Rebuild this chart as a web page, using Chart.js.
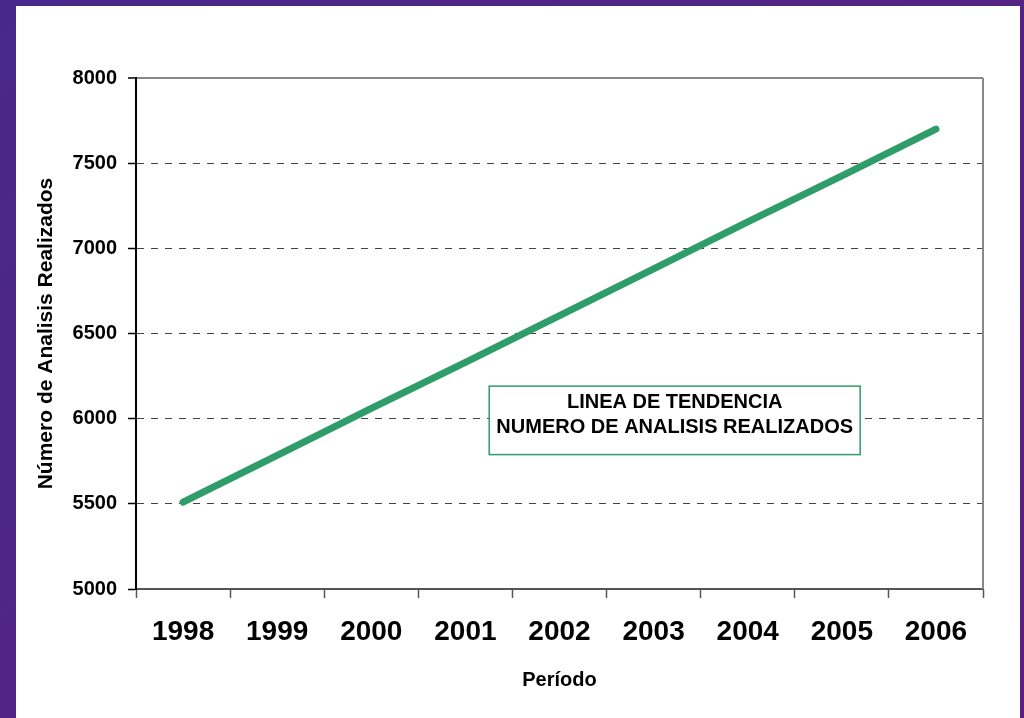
<!DOCTYPE html>
<html>
<head>
<meta charset="utf-8">
<script src="https://cdn.jsdelivr.net/npm/chart.js@4"></script>
<style>
  body { margin: 0; width: 1024px; height: 718px; overflow: hidden;
         background: linear-gradient(135deg, #48298b, #5d1f7d); }
  #panel { position: absolute; left: 16px; top: 6px; width: 1004px; height: 712px; background: #fff; }
</style>
</head>
<body>
<div id="panel"><canvas id="chart1" width="1004" height="712"></canvas></div>
<script>
var years = ['1998', '1999', '2000', '2001', '2002', '2003', '2004', '2005', '2006'];
var analisis = [5510, 5785, 6060, 6330, 6605, 6880, 7155, 7425, 7700];
var yTicks = [5000, 5500, 6000, 6500, 7000, 7500, 8000];
var boxLines = ['LINEA DE TENDENCIA', 'NUMERO DE ANALISIS REALIZADOS'];

var FONT = 'Arial, "Liberation Sans", sans-serif';
var GREEN = '#2f9d69';

// right border of the plot + the text box
var extras = {
  id: 'extras',
  beforeDatasetsDraw: function(chart) {
    var ctx = chart.ctx, a = chart.chartArea;
    ctx.save();
    ctx.strokeStyle = '#888';
    ctx.lineWidth = 2;
    ctx.beginPath();
    ctx.moveTo(a.right, a.top);
    ctx.lineTo(a.right, a.bottom);
    ctx.stroke();
    ctx.restore();
  },
  afterDraw: function(chart) {
    var ctx = chart.ctx, a = chart.chartArea;
    var w = a.right - a.left, h = a.bottom - a.top;
    var x0 = a.left + w * 0.417, x1 = a.left + w * 0.855;
    var y0 = a.top + h * 0.603, y1 = a.top + h * 0.737;
    ctx.save();
    ctx.fillStyle = '#fff';
    ctx.fillRect(x0, y0, x1 - x0, y1 - y0);
    ctx.strokeStyle = GREEN;
    ctx.lineWidth = 1.5;
    ctx.strokeRect(x0, y0, x1 - x0, y1 - y0);
    ctx.fillStyle = '#000';
    ctx.font = 'bold 20px ' + FONT;
    ctx.textAlign = 'center';
    ctx.textBaseline = 'middle';
    var cx = (x0 + x1) / 2;
    ctx.fillText(boxLines[0], cx, y0 + 16);
    ctx.fillText(boxLines[1], cx, y0 + 41);
    ctx.restore();
  }
};

new Chart(document.getElementById('chart1'), {
  type: 'line',
  data: {
    labels: years,
    datasets: [{
      data: analisis,
      borderColor: GREEN,
      borderWidth: 7,
      borderCapStyle: 'round',
      pointRadius: 0,
      tension: 0,
      clip: false
    }]
  },
  options: {
    responsive: false,
    animation: false,
    devicePixelRatio: 1,
    layout: { padding: { top: 72, right: 37, left: 0, bottom: 0 } },
    plugins: { legend: { display: false }, tooltip: { enabled: false } },
    scales: {
      x: {
        offset: true,
        afterFit: function(s) { s.height = 129; },
        grid: { offset: true, drawOnChartArea: false, tickLength: 9, tickColor: '#555', tickWidth: 1.5 },
        border: { color: '#555', width: 2 },
        ticks: { color: '#000', padding: 17, font: { family: FONT, size: 28, weight: 'bold' } },
        title: { display: true, text: 'Período', color: '#000',
                 padding: { top: 0, bottom: 26 }, font: { family: FONT, size: 20, weight: 'bold' } }
      },
      y: {
        min: yTicks[0],
        max: yTicks[yTicks.length - 1],
        afterFit: function(s) { s.width = 120; },
        afterBuildTicks: function(s) { s.ticks = yTicks.map(function(v) { return { value: v }; }); },
        grid: {
          color: function(c) {
            if (c.tick && c.tick.value === 8000) return '#888';
            if (c.tick && c.tick.value === 5000) return 'rgba(0,0,0,0)';
            return '#444';
          },
          lineWidth: function(c) { return c.tick && c.tick.value === 8000 ? 2 : 1; },
          tickColor: '#000', tickLength: 8, tickWidth: 1.5
        },
        border: {
          color: '#000', width: 2,
          dash: function(c) { return c.tick && c.tick.value === 8000 ? [] : [7, 7]; }
        },
        ticks: {
          color: '#000', padding: 11, font: { family: FONT, size: 20, weight: 'bold' },
          callback: function(v) { return String(v); }
        },
        title: { display: true, text: 'Número de Analisis Realizados', color: '#000',
                 padding: { top: 18, bottom: 0 }, font: { family: FONT, size: 21, weight: 'bold' } }
      }
    }
  },
  plugins: [extras]
});
</script>
</body>
</html>
